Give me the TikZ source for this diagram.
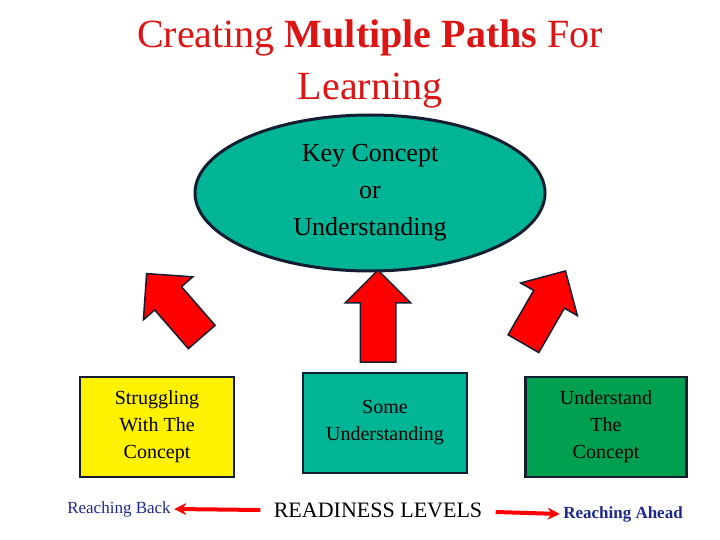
\documentclass[tikz,border=0pt]{standalone}
\usepackage{fontspec}
\setmainfont{Liberation Serif}
\usetikzlibrary{shapes.geometric,shapes.arrows,arrows.meta}
\definecolor{titlered}{RGB}{220,20,20}
\definecolor{teal}{RGB}{0,180,150}
\definecolor{dgreen}{RGB}{0,160,80}
\definecolor{navy}{RGB}{20,30,50}
\definecolor{lblue}{RGB}{30,40,140}
\begin{document}
\begin{tikzpicture}[x=1pt,y=-1pt]
    \tikzstyle{level} = [rectangle,draw=navy,line width=2.5pt,minimum width=154pt,minimum height=100pt,align=center,font=\fontsize{20}{27}\selectfont]
    \tikzstyle{fat} = [single arrow,draw=navy,line width=1.5pt,fill=red,minimum height=84pt,inner xsep=0pt,inner ysep=17pt,single arrow head extend=15pt]
    \useasboundingbox (0,0) rectangle (720,540);

    \node (t) at (370,64) [text=titlered,align=center,font=\fontsize{40}{52}\selectfont] {Creating \textbf{Multiple Paths} For\\Learning};

    \node (k) at (370,193) [ellipse,draw=navy,line width=3pt,fill=teal,minimum width=350pt,minimum height=156pt,align=center,font=\fontsize{26}{37}\selectfont] {Key Concept\\or\\Understanding};

    \node (a) at (157,427) [level,fill=yellow] {Struggling\\With The\\Concept};
    \node (b) at (385,423) [level,fill=teal,minimum width=164pt] {Some\\Understanding};
    \node (c) at (606,427) [level,fill=dgreen,minimum width=161pt] {Understand\\The\\Concept};

    \node (l) at (180,312) [fat,rotate=131] {};
    \node (m) at (378,325) [fat,rotate=90,minimum height=92pt] {};
    \node (r) at (540,315) [fat,rotate=60] {};

    \node (rb) at (119,509) [text=lblue,font=\fontsize{17}{20}\selectfont] {Reaching Back};
    \node (rl) at (378,510) [font=\fontsize{22}{26}\selectfont] {READINESS LEVELS};
    \node (ra) at (623,514) [text=lblue,font=\bfseries\fontsize{17}{20}\selectfont] {Reaching Ahead};

    \draw [-{Stealth[length=12pt,width=12pt]},red,line width=4pt] (rl.west) ++(-10,0) -- (rb.east);
    \draw [-{Stealth[length=12pt,width=12pt]},red,line width=4pt] (rl.east) ++(10,2) -- (ra.west);
\end{tikzpicture}
\end{document}
